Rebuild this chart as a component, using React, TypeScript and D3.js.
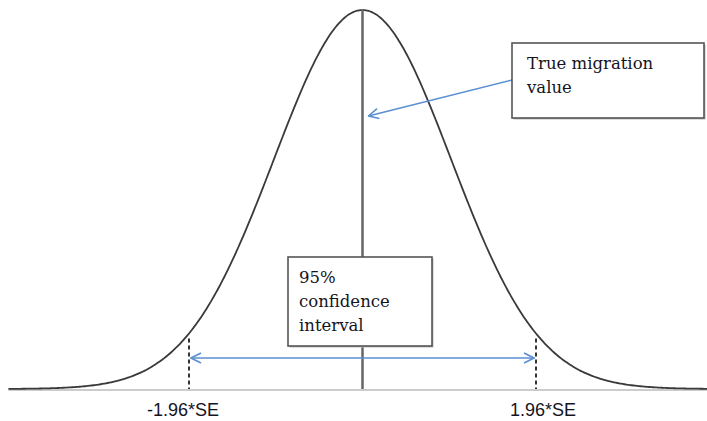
import { useEffect, useRef } from 'react'
import * as d3 from 'd3'

// normal curve drawn in units of standard errors
const zCrit = 1.96
const curveRange = [-4.0, 3.9]
const boundLabels = ['-1.96*SE', '1.96*SE']
const trueLabel = ['True migration', 'value']
const ciLabel = ['95%', 'confidence', 'interval']

const W = 707
const H = 421

const pdf = (z: number) => Math.exp((-z * z) / 2) / Math.sqrt(2 * Math.PI)

export default function App() {
  const ref = useRef<SVGSVGElement | null>(null)

  useEffect(() => {
    const svg = d3.select(ref.current)
    svg.selectAll('*').remove()
    svg.attr('width', W).attr('height', H)

    const x = d3.scaleLinear().domain([-zCrit, zCrit]).range([189, 536])
    const y = d3.scaleLinear().domain([0, pdf(0)]).range([389, 10])
    const base = y(0)

    const defs = svg.append('defs')
    const marker = (id: string, orient: string) =>
      defs
        .append('marker')
        .attr('id', id)
        .attr('viewBox', '0 0 12 12')
        .attr('refX', 11)
        .attr('refY', 6)
        .attr('markerWidth', 12)
        .attr('markerHeight', 12)
        .attr('markerUnits', 'userSpaceOnUse')
        .attr('orient', orient)
        .append('path')
        .attr('d', 'M1,1 L11,6 L1,11')
        .attr('fill', 'none')
        .attr('stroke', '#5b8fd3')
        .attr('stroke-width', 1.6)
    marker('arr', 'auto')
    marker('arrStart', 'auto-start-reverse')

    // baseline
    svg.append('line')
      .attr('x1', x(curveRange[0])).attr('x2', W)
      .attr('y1', base + 1).attr('y2', base + 1)
      .attr('stroke', '#999').attr('stroke-width', 1)

    // curve
    const pts = d3.range(curveRange[0], curveRange[1] + 0.001, 0.02)
    const line = d3.line<number>().x((d) => x(d)).y((d) => y(pdf(d))).curve(d3.curveBasis)
    svg.append('path')
      .datum(pts)
      .attr('d', line as any)
      .attr('fill', 'none')
      .attr('stroke', '#3a3a3a')
      .attr('stroke-width', 1.8)

    // centre line
    svg.append('line')
      .attr('x1', x(0)).attr('x2', x(0))
      .attr('y1', y(pdf(0))).attr('y2', base)
      .attr('stroke', '#666').attr('stroke-width', 2.5)

    // dashed bounds
    ;[-zCrit, zCrit].forEach((z) => {
      svg.append('line')
        .attr('x1', x(z)).attr('x2', x(z))
        .attr('y1', y(pdf(z)) + 5).attr('y2', base)
        .attr('stroke', '#333').attr('stroke-width', 2)
        .attr('stroke-dasharray', '4 3')
    })

    // CI arrow
    svg.append('line')
      .attr('x1', x(-zCrit) + 2).attr('x2', x(zCrit) - 2)
      .attr('y1', 358).attr('y2', 358)
      .attr('stroke', '#5b8fd3').attr('stroke-width', 1.6)
      .attr('marker-start', 'url(#arrStart)')
      .attr('marker-end', 'url(#arr)')

    // pointer to true value
    svg.append('line')
      .attr('x1', 512).attr('y1', 80)
      .attr('x2', x(0) + 6).attr('y2', 116)
      .attr('stroke', '#5b8fd3').attr('stroke-width', 1.6)
      .attr('marker-end', 'url(#arr)')

    const box = (bx: number, by: number, bw: number, bh: number, lines: string[], tx: number, ty: number) => {
      svg.append('rect')
        .attr('x', bx + 1.5).attr('y', by + 1.5).attr('width', bw).attr('height', bh)
        .attr('fill', '#bbb')
      svg.append('rect')
        .attr('x', bx).attr('y', by).attr('width', bw).attr('height', bh)
        .attr('fill', '#fff').attr('stroke', '#555').attr('stroke-width', 1.6)
      svg.append('g')
        .selectAll('text')
        .data(lines)
        .enter()
        .append('text')
        .attr('x', tx)
        .attr('y', (_d, i) => ty + i * 24)
        .attr('fill', '#14141e')
        .style('font-family', '"DejaVu Serif", serif')
        .style('font-size', '16.5px')
        .text((d) => d)
    }
    box(512, 43, 192, 75, trueLabel, 527, 69)
    box(288, 257, 144, 89, ciLabel, 299, 283)

    // bound labels
    svg.append('g')
      .selectAll('text')
      .data(boundLabels)
      .enter()
      .append('text')
      .attr('x', (_d, i) => (i === 0 ? 183 : 543))
      .attr('y', 416)
      .attr('text-anchor', 'middle')
      .attr('fill', '#14141e')
      .style('font-family', '"Liberation Sans", sans-serif')
      .style('font-size', '18px')
      .text((d) => d)
  }, [])

  return <svg ref={ref} style={{ position: 'absolute', left: 0, top: 0, background: '#fff' }} />
}
